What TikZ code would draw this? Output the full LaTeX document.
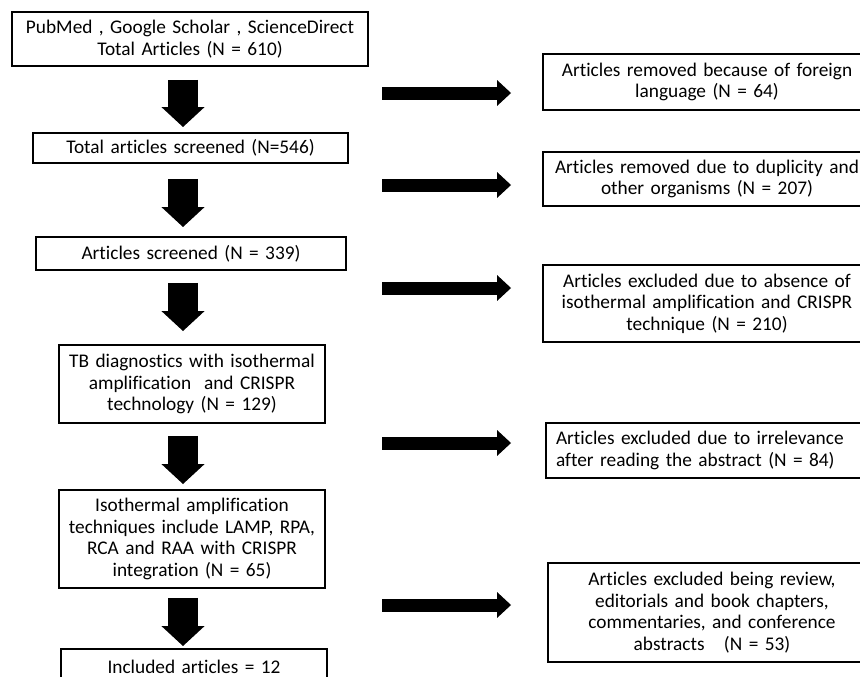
\documentclass[tikz,border=0pt]{standalone}
\usepackage{fontspec}
\setmainfont{Carlito}[Ligatures=NoCommon]
\usepackage{tikz}
\usetikzlibrary{arrows.meta}

\tikzset{
    box/.style={draw, line width=1.1pt, align=center, inner sep=0pt,
        font=\fontsize{11}{12.3}\selectfont},
    downarrow/.style={line width=0.6cm, -{Triangle[width=0.84cm, length=0.4cm]}},
    rightarrow/.style={line width=0.26cm, -{Triangle[width=0.5cm, length=0.28cm]}}
}

\begin{document}
\begin{tikzpicture}[x=0.02cm, y=-0.02cm]

    \useasboundingbox (0,0) rectangle (860,677);
    \clip (0,0) rectangle (860,677);

    % Left column of boxes
    \node[box, text width=7.12cm, minimum height=1.08cm] (b1) at (190, 39)
        {PubMed , Google Scholar , ScienceDirect\\Total Articles (N = 610)};
    \node[box, text width=6.30cm, minimum height=0.60cm] (b2) at (190.5, 148)
        {Total articles screened (N=546)};
    \node[box, text width=6.20cm, minimum height=0.66cm] (b3) at (191, 253.5)
        {Articles screened (N = 339)};
    \node[box, text width=5.32cm, minimum height=1.56cm] (b4) at (192, 384)
        {TB diagnostics with isothermal\\amplification \ and CRISPR\\technology (N = 129)};
    \node[box, text width=5.32cm, minimum height=1.96cm] (b5) at (192, 539)
        {Isothermal amplification\\techniques include LAMP, RPA,\\RCA and RAA with CRISPR\\integration (N = 65)};
    \node[box, text width=5.32cm, minimum height=0.70cm] (b6) at (194, 666.5)
        {Included articles = 12};

    % Right column of boxes
    \node[box, text width=6.56cm, minimum height=1.12cm] (r1) at (707, 82)
        {Articles removed because of foreign\\language (N = 64)};
    \node[box, text width=6.56cm, minimum height=1.08cm] (r2) at (707, 179)
        {Articles removed due to duplicity and\\other organisms (N = 207)};
    \node[box, text width=6.56cm, minimum height=1.54cm] (r3) at (707, 303.5)
        {Articles excluded due to absence of\\isothermal amplification and CRISPR\\technique (N = 210)};
    \node[box, align=left, inner xsep=0.2cm, text width=6.16cm, minimum height=1.10cm] (r4) at (710, 450.5)
        {Articles excluded due to irrelevance\\after reading the abstract (N = 84)};
    \node[box, text width=6.56cm, minimum height=1.98cm] (r5) at (712, 612.5)
        {Articles excluded being review,\\editorials and book chapters,\\commentaries, and conference\\abstracts \ \ (N = 53)};

    % Down arrows
    \coordinate (ax) at (183, 0);
    \draw[downarrow, shorten <=0.26cm, shorten >=0.10cm] (b1.south -| ax) -- (b2.north -| ax);
    \draw[downarrow, shorten <=0.30cm, shorten >=0.18cm] (b2.south -| ax) -- (b3.north -| ax);
    \draw[downarrow, shorten <=0.24cm, shorten >=0.26cm] (b3.south -| ax) -- (b4.north -| ax);
    \draw[downarrow, shorten <=0.24cm, shorten >=0.10cm] (b4.south -| ax) -- (b5.north -| ax);
    \draw[downarrow, shorten <=0.18cm, shorten >=0.04cm] (b5.south -| ax) -- (b6.north -| ax);

    % Right arrows
    \coordinate (s1) at (382, 93);
    \coordinate (s2) at (382, 185);
    \coordinate (s3) at (382, 288);
    \coordinate (s4) at (382, 443);
    \coordinate (s5) at (382, 605);
    \draw[rightarrow, shorten >=0.62cm] (s1) -- (s1 -| r1.west);
    \draw[rightarrow, shorten >=0.62cm] (s2) -- (s2 -| r2.west);
    \draw[rightarrow, shorten >=0.62cm] (s3) -- (s3 -| r3.west);
    \draw[rightarrow, shorten >=0.68cm] (s4) -- (s4 -| r4.west);
    \draw[rightarrow, shorten >=0.72cm] (s5) -- (s5 -| r5.west);

\end{tikzpicture}
\end{document}
